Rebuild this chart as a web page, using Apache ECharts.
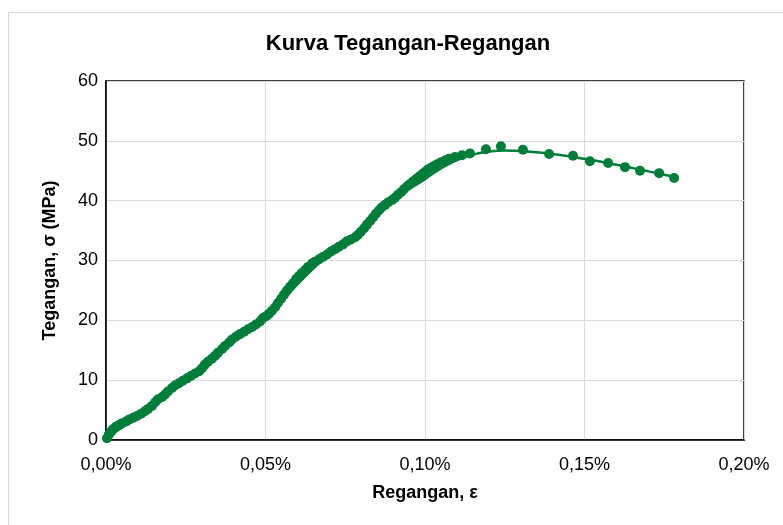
<!DOCTYPE html>
<html>
<head>
<meta charset="utf-8">
<title>Kurva Tegangan-Regangan</title>
<script src="https://cdn.jsdelivr.net/npm/echarts@6/dist/echarts.min.js"></script>
<style>
  html, body { margin: 0; padding: 0; background: #fff; }
  #chart { width: 783px; height: 525px; }
</style>
</head>
<body>
<div id="chart"></div>
<script>
// regangan (%) dan tegangan (MPa)
var strain = [
  0.0003, 0.0009, 0.0016, 0.0022, 0.0031, 0.0041, 0.0050, 0.0063, 0.0072, 0.0085,
  0.0097, 0.0110, 0.0122, 0.0132, 0.0144, 0.0154, 0.0163, 0.0176, 0.0185, 0.0194,
  0.0207, 0.0216, 0.0229, 0.0241, 0.0254, 0.0266, 0.0279, 0.0292, 0.0301, 0.0310,
  0.0320, 0.0332, 0.0342, 0.0351, 0.0364, 0.0373, 0.0386, 0.0395, 0.0408, 0.0420,
  0.0433, 0.0445, 0.0458, 0.0470, 0.0483, 0.0492, 0.0502, 0.0511, 0.0520, 0.0530,
  0.0539, 0.0549, 0.0558, 0.0567, 0.0577, 0.0586, 0.0596, 0.0605, 0.0614, 0.0624,
  0.0633, 0.0646, 0.0655, 0.0668, 0.0680, 0.0693, 0.0705, 0.0718, 0.0730, 0.0743,
  0.0755, 0.0768, 0.0781, 0.0790, 0.0799, 0.0809, 0.0818, 0.0828, 0.0837, 0.0846,
  0.0856, 0.0865, 0.0875, 0.0884, 0.0897, 0.0906, 0.0915, 0.0925, 0.0934, 0.0944,
  0.0953, 0.0962, 0.0972, 0.0981, 0.0991, 0.1000, 0.1009, 0.1019, 0.1028, 0.1038,
  0.1050, 0.1063, 0.1075, 0.1094, 0.1116, 0.1141, 0.1191, 0.1238, 0.1307, 0.1389,
  0.1464, 0.1517, 0.1574, 0.1627, 0.1674, 0.1734, 0.1781
];
var stress = [
  0.3, 0.9, 1.4, 1.8, 2.2, 2.5, 2.8, 3.1, 3.4, 3.7,
  4.0, 4.4, 4.8, 5.2, 5.7, 6.3, 6.8, 7.2, 7.6, 8.1,
  8.7, 9.1, 9.5, 9.9, 10.3, 10.7, 11.1, 11.5, 12.0, 12.6,
  13.1, 13.6, 14.1, 14.6, 15.2, 15.7, 16.3, 16.8, 17.3, 17.7,
  18.1, 18.5, 18.9, 19.3, 19.8, 20.4, 20.7, 21.1, 21.6, 22.2,
  22.9, 23.6, 24.3, 25.0, 25.6, 26.2, 26.9, 27.4, 27.9, 28.4,
  28.9, 29.5, 29.8, 30.2, 30.6, 31.0, 31.5, 31.9, 32.3, 32.7,
  33.2, 33.5, 33.9, 34.3, 34.8, 35.4, 36.0, 36.6, 37.2, 37.8,
  38.4, 38.9, 39.3, 39.7, 40.1, 40.5, 41.0, 41.4, 41.9, 42.4,
  42.8, 43.2, 43.6, 44.0, 44.4, 44.8, 45.2, 45.5, 45.8, 46.1,
  46.4, 46.7, 47.0, 47.3, 47.6, 47.9, 48.6, 49.1, 48.5, 47.8,
  47.5, 46.6, 46.3, 45.6, 45.0, 44.6, 43.8
];
// garis tren
var trendStrain = [0, 0.01, 0.02, 0.03, 0.04, 0.05, 0.06, 0.07, 0.08, 0.09, 0.10, 0.105, 0.11, 0.115, 0.12, 0.125, 0.13, 0.14, 0.15, 0.16, 0.17, 0.178];
var trendStress = [0.3, 4.0, 8.4, 11.8, 16.8, 20.2, 26.0, 31.0, 34.6, 40.0, 43.6, 45.4, 46.8, 47.7, 48.2, 48.4, 48.3, 47.8, 47.0, 46.0, 44.9, 44.0];
var xTicks = [0, 0.05, 0.10, 0.15, 0.20];

var green = "#007d3a";
var font = "'Liberation Sans', Arial, sans-serif";

var points = [];
for (var i = 0; i < strain.length; i++) {
  points.push([strain[i], stress[i]]);
}
var trend = [];
for (var j = 0; j < trendStrain.length; j++) {
  trend.push([trendStrain[j], trendStress[j]]);
}

var chart = echarts.init(document.getElementById("chart"));
var option = {
  backgroundColor: "#fff",
  animation: false,
  graphic: [{
    type: "rect",
    shape: { x: 8.5, y: 12.5, width: 800, height: 600 },
    style: { fill: "none", stroke: "#d9d9d9", lineWidth: 1 },
    silent: true
  }],
  title: {
    text: "Kurva Tegangan-Regangan",
    left: 403,
    textAlign: "center",
    top: 28,
    textStyle: { fontFamily: font, fontSize: 22, fontWeight: "bold", color: "#000" }
  },
  grid: {
    left: 106,
    right: 39,
    top: 81,
    bottom: 85,
    show: true,
    borderColor: "#000",
    borderWidth: 1.5
  },
  xAxis: {
    type: "value",
    min: xTicks[0],
    max: xTicks[xTicks.length - 1],
    interval: 0.05,
    name: "Regangan, ε",
    nameLocation: "middle",
    nameGap: 44,
    nameTextStyle: { fontFamily: font, fontSize: 18, fontWeight: "bold", color: "#000" },
    axisLine: { lineStyle: { color: "#000", width: 1.5 } },
    axisTick: { show: false },
    axisLabel: {
      margin: 16,
      fontFamily: font,
      fontSize: 18,
      color: "#000",
      formatter: function(v) {
        return v.toFixed(2).replace(".", ",") + "%";
      }
    },
    splitLine: { show: true, lineStyle: { color: "#d9d9d9", width: 1 } }
  },
  yAxis: {
    type: "value",
    min: 0,
    max: 60,
    interval: 10,
    name: "Tegangan, σ (MPa)",
    nameLocation: "middle",
    nameGap: 47,
    nameTextStyle: { fontFamily: font, fontSize: 18, fontWeight: "bold", color: "#000" },
    axisLine: { show: true, lineStyle: { color: "#000", width: 1.5 } },
    axisTick: { show: false },
    axisLabel: { margin: 8, fontFamily: font, fontSize: 18, color: "#000" },
    splitLine: { show: true, lineStyle: { color: "#d9d9d9", width: 1 } }
  },
  series: [
    {
      name: "tren",
      type: "line",
      data: trend,
      smooth: true,
      symbol: "none",
      lineStyle: { color: green, width: 2.5 },
      z: 2
    },
    {
      name: "data",
      type: "scatter",
      data: points,
      symbol: "circle",
      symbolSize: 10,
      itemStyle: { color: green, opacity: 1 },
      z: 3
    }
  ]
};
chart.setOption(option);
</script>
</body>
</html>
